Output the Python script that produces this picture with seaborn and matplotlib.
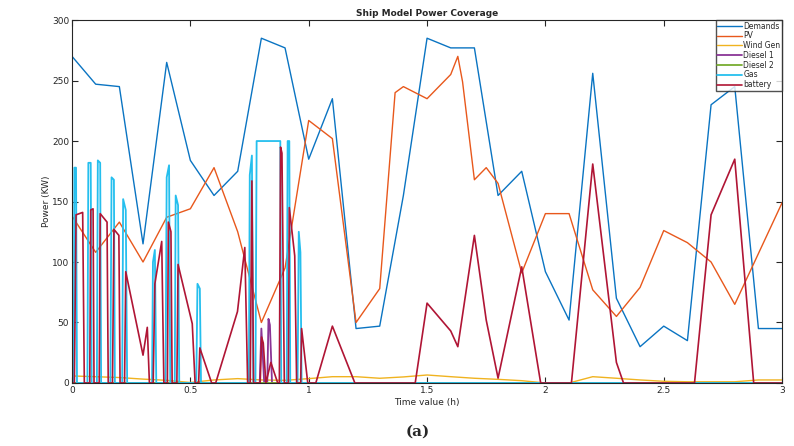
import matplotlib
matplotlib.use("Agg")
import matplotlib.pyplot as plt
import seaborn as sns
import pandas as pd

# Data (time in h, power in KW)
demand_t = [0.0, 0.1, 0.2, 0.3, 0.4, 0.5, 0.6, 0.7, 0.8, 0.9, 1.0, 1.1, 1.2, 1.3, 1.4, 1.5,
            1.6, 1.7, 1.8, 1.9, 2.0, 2.1, 2.2, 2.3, 2.4, 2.5, 2.6, 2.7, 2.8, 2.9, 3.0]
demand_p = [270, 247, 245, 115, 265, 184, 155, 175, 285, 277, 185, 235, 45, 47, 155, 285,
            277, 277, 155, 175, 92, 52, 256, 70, 30, 47, 35, 230, 245, 45, 45]

pv_t = [0.0, 0.1, 0.2, 0.3, 0.4, 0.5, 0.6, 0.7, 0.8, 0.9, 1.0, 1.1, 1.2, 1.3, 1.365, 1.40,
        1.5, 1.6, 1.63, 1.65, 1.70, 1.75, 1.80, 1.9, 2.0, 2.1, 2.2, 2.3, 2.4, 2.5, 2.6, 2.7,
        2.8, 3.0]
pv_p = [138, 108, 133, 100, 137, 144, 178, 125, 50, 95, 217, 202, 50, 78, 240, 245,
        235, 255, 270, 249, 168, 178, 165, 91, 140, 140, 77, 55, 79, 126, 116, 100,
        65, 149]

wind_t = [0.0, 0.1, 0.2, 0.3, 0.4, 0.5, 0.6, 0.7, 0.8, 0.9, 1.0, 1.1, 1.2, 1.3, 1.4, 1.5,
          1.6, 1.7, 1.8, 1.9, 2.0, 2.1, 2.2, 2.3, 2.4, 2.5, 2.6, 2.7, 2.8, 2.9, 3.0]
wind_p = [5.8, 5.2, 4.5, 3.2, 2.2, 0.4, 2.5, 3.6, 2.5, 2.2, 3.6, 5.2, 5.2, 3.9, 5.0, 6.6,
          5.2, 3.9, 3.0, 1.9, 0.0, 0.0, 5.2, 3.9, 2.5, 1.4, 1.0, 1.0, 1.0, 2.5, 2.5]

diesel1_t = [0.0, 0.793, 0.800, 0.812, 0.825, 0.830, 0.836, 0.845, 3.0]
diesel1_p = [0, 0, 45, 0, 0, 53, 48, 0, 0]

diesel2_t = [0.0, 3.0]
diesel2_p = [0, 0]

gas_t = [0.0, 0.007, 0.010, 0.017, 0.021, 0.065, 0.069, 0.079, 0.083, 0.105, 0.109, 0.119,
         0.123, 0.162, 0.167, 0.177, 0.181, 0.212, 0.216, 0.227, 0.233, 0.338, 0.342, 0.350,
         0.356, 0.395, 0.400, 0.410, 0.415, 0.434, 0.438, 0.448, 0.453, 0.525, 0.530, 0.540,
         0.545, 0.747, 0.751, 0.760, 0.766, 0.775, 0.780, 0.880, 0.884, 0.907, 0.911, 0.918,
         0.922, 0.953, 0.958, 0.965, 0.970, 3.0]
gas_p = [0, 0, 178, 178, 0, 0, 182, 182, 0, 0, 184, 182,
         0, 0, 170, 168, 0, 0, 152, 143, 0, 0, 100, 110,
         0, 0, 170, 180, 0, 0, 155, 147, 0, 0, 82, 78,
         0, 0, 172, 188, 0, 0, 200, 200, 0, 0, 200, 200,
         0, 0, 125, 108, 0, 0]

battery_t = [0.0, 0.010, 0.017, 0.045, 0.052, 0.075, 0.079, 0.089, 0.093, 0.115, 0.119, 0.148,
             0.153, 0.171, 0.177, 0.198, 0.203, 0.222, 0.227, 0.300, 0.318, 0.327, 0.343, 0.350,
             0.379, 0.388, 0.403, 0.407, 0.418, 0.423, 0.443, 0.448, 0.508, 0.520, 0.535, 0.540,
             0.590, 0.607, 0.699, 0.730, 0.742, 0.753, 0.760, 0.767, 0.795, 0.801, 0.808, 0.819,
             0.840, 0.869, 0.876, 0.881, 0.887, 0.897, 0.914, 0.918, 0.941, 0.949, 0.966, 0.970,
             0.996, 1.03, 1.1, 1.195, 1.45, 1.5, 1.6, 1.63, 1.70, 1.75, 1.80, 1.90,
             1.98, 2.11, 2.2, 2.3, 2.33, 2.63, 2.7, 2.8, 2.88, 3.0]
battery_p = [0, 0, 139, 141, 0, 0, 143, 144, 0, 0, 140, 133,
             0, 0, 127, 122, 0, 0, 92, 23, 46, 0, 0, 82,
             117, 0, 0, 133, 125, 0, 0, 98, 49, 0, 0, 29,
             0, 0, 59, 112, 0, 0, 167, 0, 0, 38, 33, 0,
             17, 0, 0, 195, 190, 0, 0, 145, 105, 0, 0, 45,
             0, 0, 47, 0, 0, 66, 43, 30, 122, 52, 4, 96,
             0, 0, 181, 17, 0, 0, 139, 185, 0, 0]

series = [
    ("Demands", demand_t, demand_p),
    ("PV", pv_t, pv_p),
    ("Wind Gen", wind_t, wind_p),
    ("Diesel 1", diesel1_t, diesel1_p),
    ("Diesel 2", diesel2_t, diesel2_p),
    ("Gas", gas_t, gas_p),
    ("battery", battery_t, battery_p),
]
colors = {"Demands": "#0A74C2", "PV": "#E8581C", "Wind Gen": "#F0B320",
          "Diesel 1": "#8A3596", "Diesel 2": "#77AC30", "Gas": "#25BFEE",
          "battery": "#B01535"}
widths = {"Demands": 1.0, "PV": 1.0, "Wind Gen": 1.0, "Diesel 1": 1.3,
          "Diesel 2": 1.3, "Gas": 1.3, "battery": 1.2}

rows = []
for name, ts, ps in series:
    for t, p in zip(ts, ps):
        rows.append({"series": name, "t": t, "p": p})
df = pd.DataFrame(rows)

sns.set_theme(style="ticks")
plt.rcParams["font.family"] = ["DejaVu Sans"]

fig = plt.figure(figsize=(7.94, 4.46), dpi=100)
ax = fig.add_axes([0.0907, 0.1413, 0.8943, 0.8137])

for name, _, _ in series:
    sub = df[df["series"] == name]
    sns.lineplot(data=sub, x="t", y="p", color=colors[name], lw=widths[name],
                 estimator=None, sort=False, label=name, ax=ax)

ax.set_xlim(0, 3)
ax.set_ylim(0, 300)
ax.set_xticks([0, 0.5, 1, 1.5, 2, 2.5, 3])
ax.set_xticklabels(["0", "0.5", "1", "1.5", "2", "2.5", "3"])
ax.set_yticks([0, 50, 100, 150, 200, 250, 300])
ax.tick_params(direction="in", top=True, right=True, labelsize=6.5,
               length=4, width=0.8, colors="#262626", pad=2)
for s in ax.spines.values():
    s.set_linewidth(0.8)
    s.set_color("#262626")

ax.set_title("Ship Model Power Coverage", fontsize=6.5, fontweight="bold", pad=3)
ax.set_xlabel("Time value (h)", fontsize=6.5, labelpad=2)
ax.set_ylabel("Power (KW)", fontsize=6.5, labelpad=0.5)

leg = ax.legend(loc="upper right", fontsize=5.5, frameon=True, fancybox=False,
                borderaxespad=0, handlelength=3.2, handletextpad=0.2,
                labelspacing=0.1, borderpad=0.2)
leg.get_frame().set_edgecolor("#262626")
leg.get_frame().set_linewidth(1.0)

fig.text(0.526, 0.032, "(a)", fontsize=11, fontweight="bold",
         family="DejaVu Serif", ha="center", va="center")

fig.savefig("out.png", dpi=100)
